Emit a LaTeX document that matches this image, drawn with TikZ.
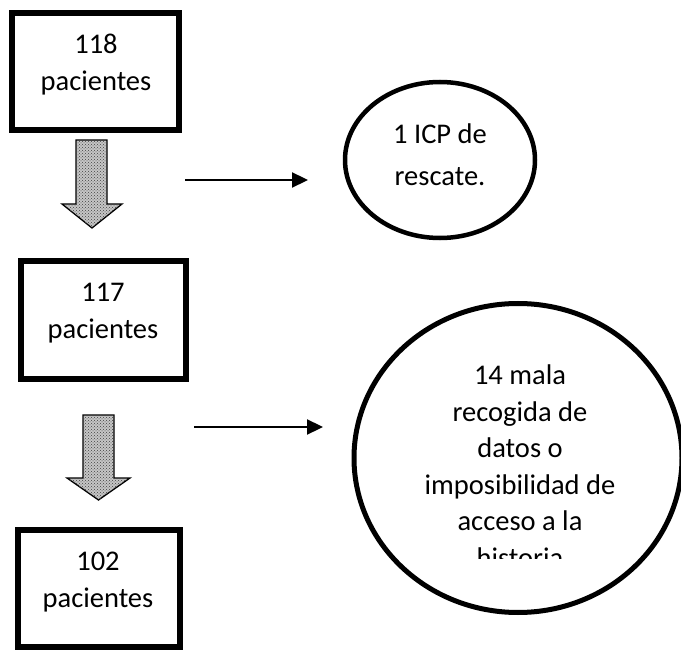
\documentclass[tikz,border=0pt]{standalone}
\usepackage{fontspec}
\setmainfont{Carlito}
\usetikzlibrary{patterns,arrows.meta}
\begin{document}
\begin{tikzpicture}[x=1pt,y=-1pt,
  boxnode/.style={draw=black, line width=6pt, inner sep=0pt, fill=white},
  txt/.style={inner sep=0pt, align=center, font=\fontsize{28.5}{37}\selectfont},
  blockarrow/.style={draw=black, line width=1.3pt, fill=gray!45,
    postaction={pattern=crosshatch dots, pattern color=black!75}},
  thinarrow/.style={line width=2.3pt, -{Triangle[length=16pt,width=15pt]}}]
\useasboundingbox (0,0) rectangle (681,650);
% boxes
\node[boxnode, minimum width=167pt, minimum height=117pt] (b1) at (95.5,71.5) {};
\node[txt] (t1) at (96,65) {118\\pacientes};
\node[boxnode, minimum width=165pt, minimum height=118pt] (b2) at (103.5,320) {};
\node[txt] (t2) at (103,313) {117\\pacientes};
\node[boxnode, minimum width=162pt, minimum height=117pt] (b3) at (99,588.5) {};
\node[txt] (t3) at (98,582) {102\\pacientes};
% block arrows
\path[blockarrow] (76,140) -- (107,140) -- (107,204) -- (122,204) -- (92,228) -- (62,204) -- (76,204) -- cycle;
\path[blockarrow] (83,415) -- (114,415) -- (114,478) -- (130,478) -- (98.5,500) -- (67,478) -- (83,478) -- cycle;
% ellipses
\draw[line width=4.5pt] (440,160) ellipse [x radius=95, y radius=78];
\node[txt, font=\fontsize{28.5}{42}\selectfont] (c1) at (440,155) {1 ICP de\\rescate.};
\draw[line width=5pt] (518,458) ellipse [x radius=164, y radius=154.5];
\begin{scope}
  \clip (300,340) rectangle (681,558);
  \node[txt, font=\fontsize{28.5}{36.5}\selectfont] (c2) at (520,466) {14 mala\\recogida de\\datos o\\imposibilidad de\\acceso a la\\historia};
\end{scope}
% thin arrows
\coordinate (a1s) at (185,180);
\coordinate (a1e) at (308,180);
\coordinate (a2s) at (194,427);
\coordinate (a2e) at (323,427);
\draw[thinarrow] (a1s) -- (a1e);
\draw[thinarrow] (a2s) -- (a2e);
\end{tikzpicture}
\end{document}
